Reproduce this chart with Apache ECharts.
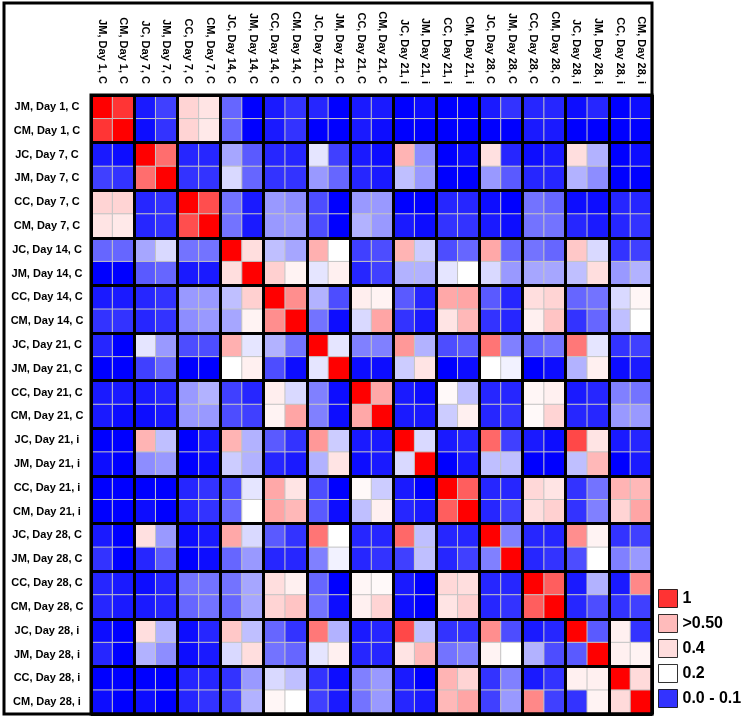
<!DOCTYPE html>
<html>
<head>
<meta charset="utf-8">
<script src="https://cdn.jsdelivr.net/npm/echarts@6/dist/echarts.min.js"></script>
<style>
html, body {margin: 0; padding: 0; background: #fff;}
#chart {width: 743px; height: 720px;}
</style>
</head>
<body>
<div id="chart"></div>
<script>
const samples = [
	'JM, Day 1, C', 'CM, Day 1, C',
	'JC, Day 7, C', 'JM, Day 7, C', 'CC, Day 7, C', 'CM, Day 7, C',
	'JC, Day 14, C', 'JM, Day 14, C', 'CC, Day 14, C', 'CM, Day 14, C',
	'JC, Day 21, C', 'JM, Day 21, C', 'CC, Day 21, C', 'CM, Day 21, C',
	'JC, Day 21, i', 'JM, Day 21, i', 'CC, Day 21, i', 'CM, Day 21, i',
	'JC, Day 28, C', 'JM, Day 28, C', 'CC, Day 28, C', 'CM, Day 28, C',
	'JC, Day 28, i', 'JM, Day 28, i', 'CC, Day 28, i', 'CM, Day 28, i'
];

// symmetric matrix, upper triangle: row i holds columns i..25
const similarity = [
	[1, .86, .02, .05, .38, .30, .08, 0, .02, .04, .03, 0, .02, .02, 0, .01, 0, 0, .02, .04, .03, .03, .01, .03, 0, .01],
	[1, .01, .04, .38, .28, .08, 0, .02, .04, 0, 0, .02, .01, 0, 0, 0, 0, 0, 0, .02, .02, 0, 0, 0, 0],
	[1, .68, .03, .03, .13, .07, .03, .03, .18, .05, .02, .01, .47, .11, 0, .01, .32, .03, .01, .02, .33, .14, 0, .01],
	[1, .04, .04, .17, .08, .04, .04, .12, .08, .03, .02, .15, .12, 0, 0, .12, .07, .03, .03, .14, .11, 0, 0],
	[1, .78, .09, .02, .12, .11, .06, 0, .12, .12, 0, 0, .03, .03, .01, 0, .09, .08, .01, .01, .03, .03],
	[1, .09, .02, .12, .12, .06, 0, .14, .12, .02, .01, .04, .04, .02, .01, .09, .09, .03, .02, .03, .04],
	[1, .33, .15, .13, .48, .20, .05, .06, .47, .16, .06, .08, .50, .08, .09, .08, .42, .17, .04, .05],
	[1, .40, .24, .18, .25, .03, .05, .14, .14, .18, .20, .17, .12, .13, .13, .15, .33, .12, .14],
	[1, .58, .14, .06, .26, .24, .07, .03, .50, .51, .07, .03, .33, .38, .08, .09, .17, .23],
	[1, .09, .01, .17, .51, .04, .02, .30, .46, .04, .03, .25, .43, .04, .08, .15, .20],
	[1, .18, .10, .10, .55, .14, .06, .07, .66, .10, .08, .09, .65, .18, .04, .05],
	[1, .01, .01, .16, .30, 0, .01, .20, .19, 0, .01, .14, .25, .01, .02],
	[1, .50, .02, .01, .22, .15, .03, .03, .23, .25, .02, .03, .10, .09],
	[1, .02, .02, .16, .25, .03, .04, .22, .38, .03, .03, .12, .12],
	[1, .17, .02, .03, .70, .05, .02, .01, .80, .30, .02, .03],
	[1, 0, .02, .15, .15, 0, 0, .15, .46, 0, .02],
	[1, .73, .03, .03, .36, .30, .04, .09, .47, .46],
	[1, .03, .05, .33, .40, .04, .10, .38, .51],
	[1, .10, .03, .03, .58, .24, .04, .05],
	[1, .03, .04, .06, .20, .10, .12],
	[1, .73, .02, .14, .02, .60],
	[1, .03, .06, .04, .05],
	[1, .07, .25, .04],
	[1, .25, .24],
	[1, .35],
	[1]
];

const legendNames = ['1', '>0.50', '0.4', '0.2', '0.0 - 0.1'];
const legendColors = ['#ff0000', '#ffaaaa', '#ffd5d5', '#ffffff', '#0000ff'];

// colour stops every 0.05 from 0 to 1
const scaleColors = [
	'#0000ff', '#4040ff', '#8080ff', '#bfbfff', '#ffffff',
	'#fff0f0', '#ffe4e4', '#ffdada', '#ffd0d0', '#ffbcbc',
	'#ffa8a8', '#ff9898', '#ff8888', '#ff7878', '#ff6868',
	'#ff5858', '#ff4848', '#ff3838', '#ff2828', '#ff1414', '#ff0000'
];

const font = 'Liberation Sans, Arial, sans-serif';
const groupEdge = index => index % 2 === 0;

const cells = [];
similarity.forEach((row, i) => row.forEach((value, k) =>
{
	let j = i + k;
	cells.push([j, i, value]);
	if (j !== i)
		cells.push([i, j, value]);
}));

const labelStyle = {fontSize: 11, fontWeight: 'bold', color: '#000', fontFamily: font};

const chart = echarts.init(document.getElementById('chart'));
chart.setOption({
	animation: false,
	grid: {left: 91, top: 95, width: 561, height: 619, show: true, borderColor: '#000', borderWidth: 3,
		backgroundColor: 'transparent', z: 10, outerBoundsMode: 'none', containLabel: false},
	xAxis: [{
		type: 'category',
		data: samples,
		position: 'top',
		axisLine: {show: false},
		axisTick: {length: 4, interval: 0, lineStyle: {color: '#000', width: 1.5}},
		axisLabel: Object.assign({rotate: 90, interval: 0, margin: 11}, labelStyle),
		splitLine: {show: false}
	}, {
		type: 'category',
		data: samples,
		position: 'top',
		offset: 0,
		z: 10,
		axisLine: {show: false},
		axisLabel: {show: false},
		axisTick: {length: 92, interval: groupEdge, lineStyle: {color: '#000', width: 3}},
		splitLine: {show: true, interval: groupEdge, lineStyle: {color: '#000', width: 3}}
	}],
	yAxis: [{
		type: 'category',
		data: samples,
		inverse: true,
		position: 'left',
		axisLine: {show: false},
		axisTick: {length: 4, interval: 0, lineStyle: {color: '#000', width: 1.5}},
		axisLabel: Object.assign({interval: 0, margin: 44, align: 'center'}, labelStyle),
		splitLine: {show: false}
	}, {
		type: 'category',
		data: samples,
		inverse: true,
		position: 'left',
		offset: 0,
		z: 10,
		axisLine: {show: false},
		axisLabel: {show: false},
		axisTick: {length: 87, interval: groupEdge, lineStyle: {color: '#000', width: 3}},
		splitLine: {show: true, interval: groupEdge, lineStyle: {color: '#000', width: 3}}
	}],
	visualMap: {
		type: 'continuous',
		show: false,
		min: 0,
		max: 1,
		seriesIndex: 0,
		inRange: {color: scaleColors}
	},
	legend: {
		orient: 'vertical',
		left: 658,
		top: 589,
		padding: 0,
		itemWidth: 19,
		itemHeight: 18,
		itemGap: 6,
		icon: 'rect',
		selectedMode: false,
		itemStyle: {borderColor: '#000', borderWidth: 1},
		textStyle: {fontSize: 16, fontWeight: 'bold', color: '#000', fontFamily: font},
		data: legendNames
	},
	graphic: [{
		type: 'rect',
		z: 100,
		shape: {x: 4, y: 3, width: 648, height: 711},
		style: {fill: 'none', stroke: '#000', lineWidth: 3}
	}],
	series: [{
		type: 'heatmap',
		data: cells,
		itemStyle: {borderColor: '#c4c4c4', borderWidth: 1},
		emphasis: {disabled: true}
	}].concat(legendNames.map((name, i) => ({
		name,
		type: 'scatter',
		data: [],
		itemStyle: {color: legendColors[i]}
	})))
});
</script>
</body>
</html>
